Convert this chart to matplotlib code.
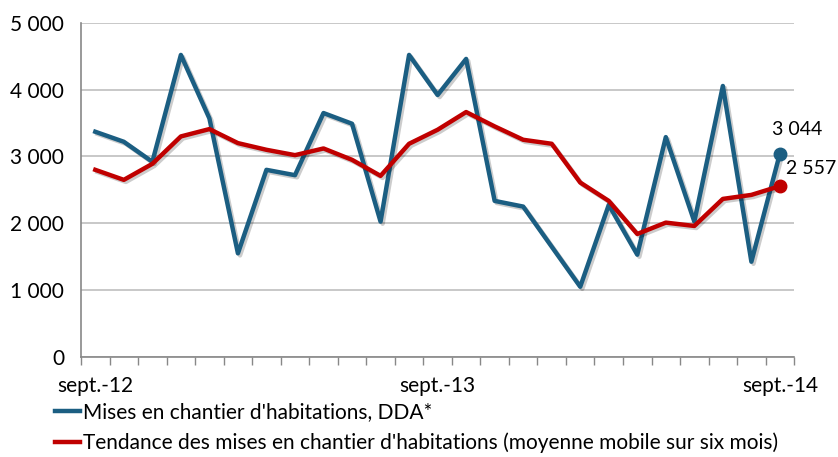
import matplotlib.pyplot as plt
import matplotlib.patheffects as pe
from matplotlib.lines import Line2D

plt.rcParams['font.family'] = ['Lato', 'DejaVu Sans']

# monthly data, sept.-12 to sept.-14
months = list(range(25))
tick_pos = [0, 12, 24]
tick_labels = ["sept.-12", "sept.-13", "sept.-14"]

mises = [3370, 3220, 2920, 4520, 3570, 1550, 2800, 2720, 3650, 3490, 2025, 4520,
         3920, 4460, 2335, 2250, 1650, 1050, 2275, 1530, 3290, 2025, 4055, 1425, 3044]
tendance = [2800, 2650, 2890, 3300, 3410, 3200, 3100, 3020, 3120, 2950, 2710, 3190,
            3400, 3665, 3450, 3250, 3190, 2610, 2335, 1840, 2010, 1960, 2365, 2425, 2557]

blue = "#1B5E82"
red = "#C00000"
shadow = [pe.SimpleLineShadow(offset=(1.5, -1.5), alpha=0.2), pe.Normal()]

fig = plt.figure(figsize=(8.38, 4.57), dpi=100)
ax = fig.add_axes([0.0967, 0.219, 0.851, 0.731])

ax.plot(months, mises, color=blue, lw=3.2, path_effects=shadow)
ax.plot(months, tendance, color=red, lw=3.2, path_effects=shadow)
ax.plot(months[-1], mises[-1], 'o', color=blue, ms=9)
ax.plot(months[-1], tendance[-1], 'o', color=red, ms=9)
ax.text(months[-1] + 0.6, mises[-1] + 230, "3 044", ha='center', va='bottom', fontsize=14)
ax.text(months[-1] + 0.2, tendance[-1] + 130, "2 557", ha='left', va='bottom', fontsize=14)

ax.set_xlim(-0.5, 24.5)
ax.set_ylim(0, 5000)
ax.set_yticks(range(0, 5001, 1000))
ax.set_yticklabels(["0", "1 000", "2 000", "3 000", "4 000", "5 000"], fontsize=15)
ax.yaxis.grid(True, color="#BFBFBF", lw=1.2)
ax.set_axisbelow(True)
ax.tick_params(axis='y', length=0, pad=12)

# minor ticks at category boundaries, labels at the yearly points
ax.set_xticks([i - 0.5 for i in range(26)], minor=True)
ax.set_xticks(tick_pos)
ax.set_xticklabels(tick_labels, fontsize=15)
ax.tick_params(axis='x', which='minor', length=6, color="#888888", width=1)
ax.tick_params(axis='x', which='major', length=0, pad=14)

for s in ['top', 'right']:
    ax.spines[s].set_visible(False)
for s in ['left', 'bottom']:
    ax.spines[s].set_color("#888888")
    ax.spines[s].set_linewidth(1.2)

handles = [Line2D([], [], color=blue, lw=3.2), Line2D([], [], color=red, lw=3.2)]
labels = ["Mises en chantier d'habitations, DDA*",
          "Tendance des mises en chantier d'habitations (moyenne mobile sur six mois)"]
fig.legend(handles, labels, loc='upper left', bbox_to_anchor=(0.066, 0.12),
           frameon=False, fontsize=15, handlelength=1.2, handletextpad=0.15,
           labelspacing=0.5, borderpad=0, borderaxespad=0)

fig.savefig("out.png", dpi=100)
plt.close(fig)
